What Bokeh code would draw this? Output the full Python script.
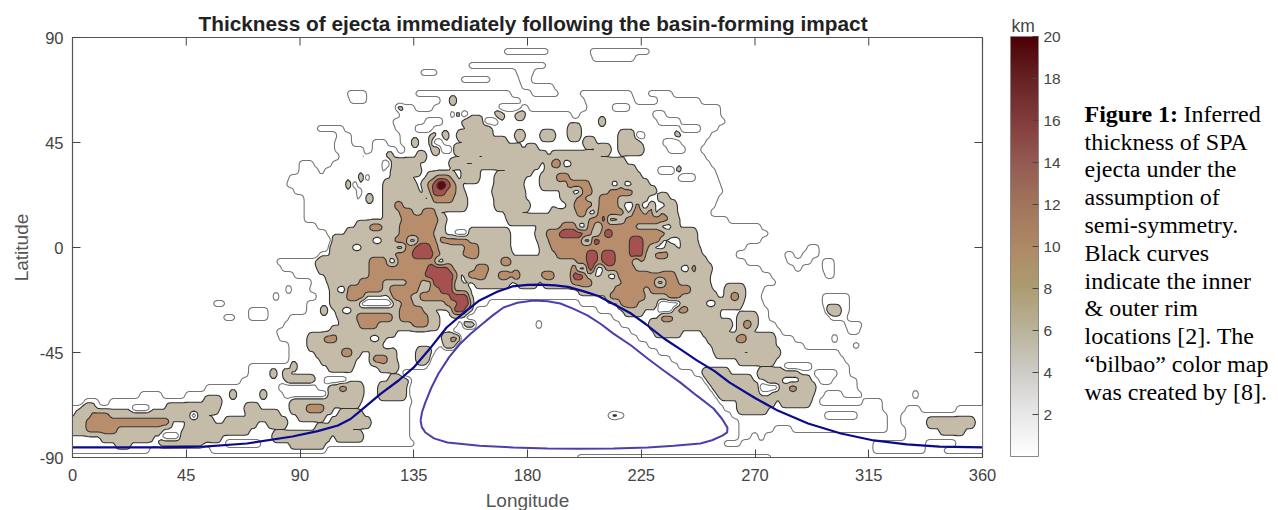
import numpy as np
from bokeh.core.properties import value
from bokeh.embed import file_html
from bokeh.layouts import row as bk_row
from bokeh.resources import INLINE
from bokeh.plotting import figure
from bokeh.models import ColorBar, FixedTicker, LinearColorMapper, Range1d

TITLE = "Thickness of ejecta immediately following the basin-forming impact"
LON_TICKS = [0, 45, 90, 135, 180, 225, 270, 315, 360]
LAT_TICKS = [-90, -45, 0, 45, 90]
CBAR_TICKS = [2, 4, 6, 8, 10, 12, 14, 16, 18, 20]
LEVEL_KM = [0.0, 4.4, 8.0, 13.0, 18.0, 26.0]
HOLE_KM = 2.6
DOT_KM = 7.0

OUTER_LON = [0, 35, 52, 69, 87, 97, 105, 110, 114, 122, 129, 135, 142, 148, 155, 161, 168, 174, 180, 185, 191, 196, 202, 208, 214, 221, 227, 234, 241, 247, 254, 260, 270, 279, 291, 304, 317, 330, 343, 360]
OUTER_LAT = [-85.7, -85.7, -85.3, -84, -81, -78.7, -76.3, -73.5, -69.9, -62.6, -57, -51.4, -42.5, -34.3, -27.8, -22.7, -19, -16.7, -16, -15.9, -16.2, -16.9, -18.7, -20.8, -24.2, -28.3, -33, -39, -44, -48.4, -53, -57.9, -64.5, -69.9, -75.4, -79.7, -82.7, -84.4, -85.3, -85.7]
INNER_LON = [137.7, 138.3, 139.6, 142, 144.8, 149, 153.5, 157.5, 161.4, 166, 170.5, 176, 182.4, 188, 193, 198, 203.7, 209, 214, 221, 227.5, 234, 240.5, 247, 253.6, 257, 259.1, 259, 257.1, 253, 248.4, 238, 227.5, 214, 201, 188, 174.4, 161, 148.3, 143, 139.6, 138.2, 137.7]
INNER_LAT = [-74.2, -70.5, -66.4, -60, -54, -47, -41.1, -37, -33.4, -29.3, -25.7, -23.7, -22.7, -23, -24, -26.2, -29.1, -32.8, -36.9, -42, -47.6, -52.8, -57.9, -63.5, -69, -73.5, -77.2, -79.2, -80.6, -82.6, -84, -85, -85.7, -86.1, -86.2, -86.1, -85.7, -85, -83.6, -81.8, -79.3, -77, -74.2]

# thickness class spans: "class:lonA-lonB", later spans overwrite earlier ones
THICKNESS_ROWS = {
    84: "1:171-188 1:205-228",
    81: "1:206-222",
    78: "1:157-187",
    75: "1:138-144 1:176-182",
    72: "1:154-165 1:177-181",
    69: "1:178-190",
    66: "1:109-116 1:136-173 1:182-192 1:201-221 1:228-237",
    63: "1:110-116 1:146-177 1:203-222 1:232-248",
    60: "1:128-180 0:136-142 0:169-177 1:204-256 0:214-220",
    57: "1:130-197 0:150-156 1:201-256 0:230-234 2:168-170 2:176-178",
    54: "1:127-258 0:140-146 0:162-168 0:232-240 2:155-162",
    51: "1:97-107 1:128-255 0:136-142 0:241-248 2:157-165 2:197-200",
    48: "1:105-110 1:130-252 0:222-226 2:153-165 2:176-178 2:186-190 2:197-200 2:217-222",
    45: "1:104-110 1:119-124 1:130-250 0:140-146 0:234-240 2:156-171 2:203-206 2:217-224",
    42: "1:104-115 1:119-128 1:132-248 0:236-242 2:143-177 0:146-150 2:180-183 2:208-212 2:217-225",
    39: "1:106-114 1:116-133 1:134-250 2:155-187 2:190-207 1:160-163 2:137-139",
    36: "1:90-95 1:103-122 1:126-252 2:127-136 2:150-176 2:178-184 2:188-218 1:155-159 3:190-193",
    33: "1:90-97 1:100-122 1:124-254 0:232-238 2:127-137 2:155-160 2:173-181 2:188-222 1:198-200",
    30: "1:86-115 1:118-255 0:240-246 2:127-133 2:141-151 3:144-149 2:155-160 2:168-178 2:186-224 3:192-196",
    27: "1:85-109 1:113-256 2:124-135 2:139-153 3:141-151 4:143-149 5:145-147 2:168-177 2:185-194 2:196-227 3:196-204 3:212-220 1:183-185",
    24: "1:88-112 1:115-257 2:124-136 2:140-154 3:142-151 4:143-147 2:167-178 2:194-230 3:198-205 3:213-221 1:224-226",
    21: "1:92-112 1:114-255 2:124-138 2:142-155 3:143-150 2:168-178 2:194-235 3:200-202 3:209-215 1:229-231",
    18: "1:92-254 2:124-147 2:146-155 3:128-130 2:168-180 2:194-238 3:199-205 3:209-215 3:222-229 1:218-220",
    15: "1:92-252 2:124-144 3:130-134 3:139-143 2:172-176 2:190-238 3:200-212 3:212-225 3:228-233 1:219-221 1:230-232",
    12: "1:92-259 2:124-147 3:131-144 2:173-181 2:179-239 3:205-228 3:229-235 4:210-212 1:216-218",
    9: "1:97-272 2:113-146 3:118-122 3:130-143 2:185-239 3:194-222 1:207-209 1:235-237",
    6: "1:101-275 2:109-172 0:150-156 3:130-142 2:184-246 3:188-234 4:193-202 4:211-213 1:206-208",
    3: "1:104-272 2:103-172 3:128-143 3:146-151 3:151-156 2:185-246 3:189-234 4:221-225 4:205-208 1:233-236",
    0: "1:104-266 2:102-172 3:128-144 4:136-141 3:156-160 1:146-148 2:186-247 3:190-227 4:221-225 1:230-233 1:239-241 1:291-295",
    -3: "1:98-262 1:282-285 1:289-295 2:103-173 3:128-145 4:135-142 3:155-160 2:186-248 3:192-226 4:204-207 4:210-214 4:221-225 3:231-235",
    -6: "1:81-266 1:283-287 1:297-301 1:288-292 2:97-176 1:152-156 3:118-147 3:170-173 2:177-250 3:200-225 4:204-207 4:210-214 1:222-224",
    -9: "1:83-272 1:286-288 1:297-301 2:98-181 3:118-150 4:141-148 3:160-164 2:177-252 3:198-222 4:204-207 1:229-232 3:243-246",
    -12: "1:88-276 1:298-301 2:101-152 3:118-136 3:136-152 4:140-150 2:156-181 3:157-163 3:169-173 4:175-178 2:177-251 3:215-238 4:198-202 3:186-190 1:206-209",
    -15: "1:95-278 2:102-153 3:114-122 3:133-137 4:143-150 2:160-172 2:177-251 3:198-205 3:218-239 1:184-186",
    -18: "1:94-273 2:103-156 3:109-122 3:126-136 3:142-150 4:146-150 2:201-252 3:215-225 3:229-244 2:259-265",
    -21: "1:97-272 1:297-307 2:103-115 2:126-157 3:109-115 3:127-133 3:138-150 4:150-156 2:212-254 3:213-226 3:236-240 2:259-265 3:261-263",
    -24: "1:56-60 1:93-273 1:297-307 0:165-200 2:103-115 2:128-157 0:114-126 3:131-134 3:148-157 4:153-157 2:217-259 3:217-223 0:232-240 2:259-264",
    -27: "1:70-77 1:93-275 1:298-307 0:160-207 2:105-142 2:150-157 3:130-138 4:151-155 2:219-225 0:232-238 2:238-255 3:240-243 2:299-303",
    -30: "1:60-64 1:70-77 1:86-275 1:300-306 0:156-213 2:106-144 3:113-126 3:130-140 2:233-255 3:233-237 2:264-270 1:240-244",
    -33: "1:84-278 1:306-312 0:153-216 2:107-144 2:155-159 3:114-120 3:135-140 2:229-260 2:264-270 3:266-268",
    -36: "1:81-280 1:307-311 0:151-220 2:103-127 2:231-240 2:250-258 2:264-268",
    -39: "1:82-285 0:148-223 2:94-123 3:100-104 2:147-153 3:150-152 2:252-277 3:263-266",
    -42: "1:86-289 1:309-311 0:146-227 2:94-123 2:147-151 2:254-277",
    -45: "1:86-303 0:144-231 2:97-113 2:119-127 3:107-110 2:137-141 2:255-279 1:265-268",
    -48: "1:86-305 0:142-236 2:99-111 2:119-127 3:119-124 2:137-141 2:264-277",
    -51: "1:70-140 0:104-110 1:240-307 0:282-292 2:102-110 2:122-128",
    -54: "1:70-130 1:246-307 2:250-259 2:272-287 0:294-302 1:262-268",
    -57: "1:67-134 0:100-108 1:250-310 2:85-95 2:126-132 2:252-268 2:275-291 0:296-300",
    -60: "1:53-133 0:82-96 1:252-310 2:102-114 3:106-108 2:122-131 2:254-272 0:272-279 2:280-293 3:284-286",
    -63: "1:27-35 1:45-133 0:84-100 1:254-312 2:102-114 2:122-131 2:256-271 2:277-292 0:298-304",
    -66: "1:5-10 1:15-134 1:256-320 2:53-58 2:87-102 2:102-113 2:264-277 2:281-291 0:296-312",
    -69: "1:0-133 0:24-30 1:258-320 1:330-335 1:350-360 2:4-8 2:38-57 2:69-73 2:87-102 3:93-99 2:264-274",
    -72: "1:0-133 1:261-322 1:328-360 1:212-218 0:298-310 2:2-38 2:39-52 0:47-49 2:70-81 2:90-99 2:106-114 3:8-14",
    -75: "1:0-133 1:264-322 1:328-360 2:0-38 3:6-38 2:46-55 2:61-72 2:78-84 2:103-117 2:339-356",
    -78: "1:0-133 1:264-322 1:330-360 0:278-284 2:0-35 3:6-17 2:45-69 2:97-109 2:344-352",
    -81: "1:0-133 0:36-42 1:264-268 1:330-360 2:12-31 2:43-58 2:80-101 2:105-114",
    -84: "1:0-60 1:75-135 1:258-264 1:317-337 1:350-360 2:18-22 2:35-51 2:87-99",
    -87: "1:0-30 1:55-100 1:317-337 1:345-360",
    -90: "1:200-276",
}
# small white holes and small specks: (latitude, longitude)
HOLES = [(17, 194), (25, 200), (15, 206), (9, 202), (12, 214), (2, 204), (19, 221), (17, 227), (21, 230), (17, 233),
         (36, 228), (27, 215), (26, 220), (9, 235), (2, 239), (0, 233), (-9, 243), (-8, 202), (-10, 209), (-13, 214),
         (-14, 233), (36, 196), (2, 121), (1, 130), (-18, 107), (-27, 109), (0, 113), (-6, 146), (7, 150), (2, 135),
         (-5, 127), (-39, 120), (-41, 125), (-23, 253), (-56, 283), (-58, 286)]
DOTS = [(60, 130), (62, 151), (46, 136), (49, 143), (45, 142), (47, 148), (39, 126), (30, 115), (28, 110), (21, 118),
        (57, 153), (-20, 81), (-19, 86), (-28, 100), (-54, 85), (-54, 80), (-51, 88), (-64, 76), (-63, 64),
        (-63, 334), (-38, 302), (-80, 273), (54, 210), (48, 240), (33, 240), (-73, 215), (-34, 185)]

lons = np.arange(0, 361, 1.0)
lats = np.arange(-90, 91, 1.0)
rows_lat = np.arange(-90, 91, 3.0)
coarse = np.zeros((rows_lat.size, lons.size))
for lat, spec in THICKNESS_ROWS.items():
    r = int(round((lat + 90) / 3))
    for token in spec.split():
        cls, span = token.split(":")
        a, b = span.split("-")
        coarse[r, int(a):int(b) + 1] = LEVEL_KM[int(cls)]
for lat, lon in HOLES:
    coarse[int(round((lat + 90) / 3)), lon - 2:lon + 2] = HOLE_KM
for lat, lon in DOTS:
    coarse[int(round((lat + 90) / 3)), lon - 1:lon + 1] = DOT_KM
km = np.array([np.interp(lats, rows_lat, coarse[:, j]) for j in range(lons.size)]).T
kernel = np.array([1, 2, 1]) / 4.0
pad = np.pad(km, 1, mode="edge")
km = np.apply_along_axis(lambda c: np.convolve(c, kernel, mode="valid"), 1, pad)
km = np.apply_along_axis(lambda c: np.convolve(c, kernel, mode="valid"), 0, km)

FL, FT, FW, FH = 72, 37, 910, 420
W1, H = 1000, 508

p = figure(width=W1, height=H, x_range=Range1d(0, 360), y_range=Range1d(-90, 90),
           frame_width=FW, frame_height=FH, min_border_left=FL, min_border_right=W1 - FL - FW,
           min_border_top=FT, min_border_bottom=H - FT - FH,
           output_backend="svg", toolbar_location=None, tools="",
           x_axis_label="Longitude", y_axis_label="Latitude")
p.grid.visible = False
p.outline_line_color = "#555555"
p.outline_line_width = 1.2
p.title.text = TITLE
p.title.text_font = "Liberation Sans"
p.title.text_font_size = "20.8px"
p.title.text_font_style = "bold"
p.title.text_color = "#222222"
p.title.align = "left"
p.title.offset = 126
p.title.standoff = 6

for ax, ticks in ((p.xaxis[0], LON_TICKS), (p.yaxis[0], LAT_TICKS)):
    ax.ticker = FixedTicker(ticks=ticks)
    ax.major_tick_in = 8
    ax.major_tick_out = 0
    ax.minor_tick_line_color = None
    ax.axis_line_color = "#555555"
    ax.major_tick_line_color = "#444444"
    ax.major_label_text_font = "Liberation Sans"
    ax.major_label_text_font_size = "16.5px"
    ax.major_label_text_color = "#444444"
    ax.axis_label_text_font = "Liberation Sans"
    ax.axis_label_text_font_size = "19px"
    ax.axis_label_text_font_style = "normal"
    ax.axis_label_text_color = "#555555"
p.yaxis[0].major_label_orientation = "horizontal"
p.yaxis[0].major_label_overrides = {t: str(t) for t in LAT_TICKS}
p.xaxis[0].major_label_standoff = 11
p.yaxis[0].major_label_standoff = 9
p.xaxis[0].axis_label_standoff = 6
p.yaxis[0].axis_label_standoff = 5

levels = [2.5, 5, 10, 15, 20, 40]
p.contour(lons, lats, km, levels,
          fill_color=["#ffffff", "#c4bca8", "#b78d6c", "#a6504f", "#5e0a0e"],
          line_color=["#777777", "#333333", "#333333", "#333333", "#333333", "#333333"],
          line_width=1.1)

p.line(INNER_LON, INNER_LAT, line_color="#4a3fae", line_width=2)
p.line(OUTER_LON, OUTER_LAT, line_color="#0a0a8c", line_width=2.2)

tick_dx = 8 / FW * 360
tick_dy = 8 / FH * 180
p.segment(LON_TICKS, [90] * len(LON_TICKS), LON_TICKS, [90 - tick_dy] * len(LON_TICKS), line_color="#444444", line_width=1)
p.segment([360] * len(LAT_TICKS), LAT_TICKS, [360 - tick_dx] * len(LAT_TICKS), LAT_TICKS, line_color="#444444", line_width=1)

# right panel: colour bar and caption; its frame starts 38px down the page, its ranges are page pixels
W2 = 278
Q_TOP = 38
q = figure(width=W2, height=H, frame_width=W2, frame_height=H,
           x_range=Range1d(W1, W1 + W2), y_range=Range1d(H + Q_TOP, Q_TOP),
           min_border=0, output_backend="svg", toolbar_location=None, tools="",
           x_axis_location=None, y_axis_location=None, title="km")
q.grid.visible = False
q.outline_line_color = None
q.title.text_font = "Liberation Sans"
q.title.text_font_size = "17.5px"
q.title.text_font_style = "normal"
q.title.text_color = "#444444"
q.title.align = "left"
q.title.offset = 11
q.title.standoff = 3

anchors = [(0, (255, 255, 255)), (2, (232, 232, 232)), (4, (205, 204, 198)), (6, (186, 179, 155)),
           (8, (172, 156, 112)), (10, (174, 137, 101)), (12, (161, 117, 92)), (14, (148, 90, 82)),
           (16, (130, 60, 60)), (18, (102, 34, 36)), (20, (77, 0, 5))]
xs = np.linspace(0, 20, 256)
palette = ["#%02x%02x%02x" % tuple(int(round(np.interp(v, [a[0] for a in anchors], [a[1][c] for a in anchors]))) for c in range(3))
           for v in xs]
mapper = LinearColorMapper(palette=palette, low=0, high=20)
cb = ColorBar(color_mapper=mapper, ticker=FixedTicker(ticks=CBAR_TICKS), width=28, height=FH,
              location=(10, H + Q_TOP - FT - FH), padding=0, margin=0, bar_line_color="#888888",
              major_tick_line_color="#444444", major_tick_in=6, minor_tick_line_color=None,
              major_label_text_font="Liberation Sans", major_label_text_font_size="15.5px",
              major_label_text_color="#444444", label_standoff=5)
q.add_layout(cb)

CAPTION = ["thickness of SPA", "ejecta under the", "assumption of", "semi-symmetry.", "Black curves",
           "indicate the inner", "& outer rim", "locations [2]. The",
           "\u201cbilbao\u201d color map", "was created by [8]."]
serif = value("Liberation Serif")
q.text([1084], [114], text=["Figure 1:"], text_font=serif, text_font_size="24px", text_font_style="bold",
       text_color="#000000", text_baseline="middle")
q.text([1183], [114], text=["Inferred"], text_font=serif, text_font_size="24px",
       text_color="#000000", text_baseline="middle")
q.text([1084] * len(CAPTION), [142 + n * 27.8 for n in range(len(CAPTION))], text=CAPTION, text_font=serif,
       text_font_size="24px", text_color="#000000", text_baseline="middle")

layout = bk_row(p, q, spacing=0)
open("out.html", "w").write(file_html(layout, INLINE))
